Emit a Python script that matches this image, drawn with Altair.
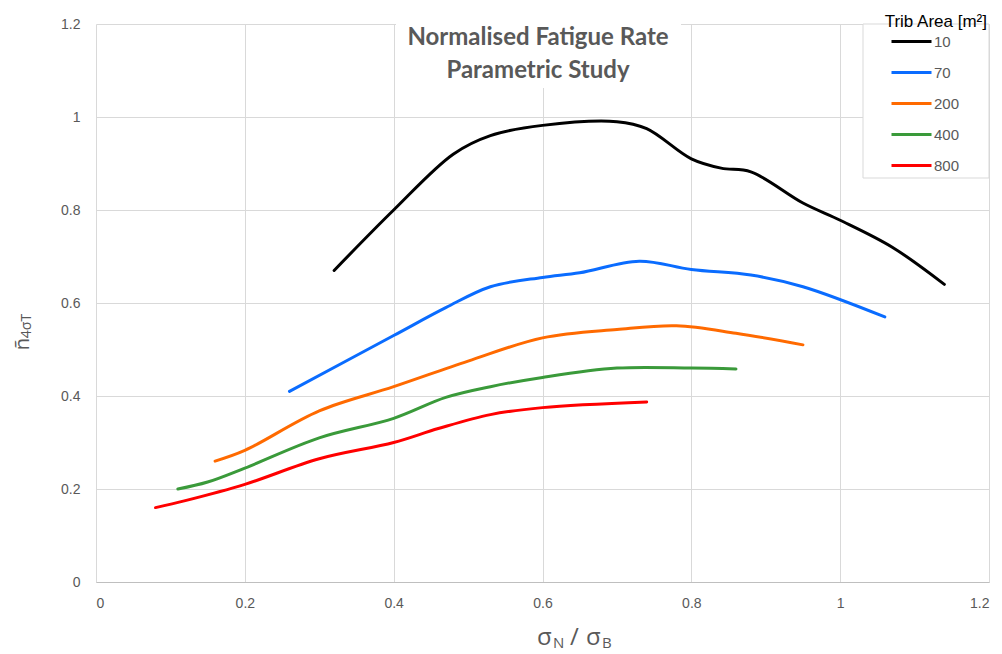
import altair as alt
import pandas as pd

# ---- data ----
series_names = ["10", "70", "200", "400", "800"]
series_colors = ["#000000", "#0A6CFF", "#FF6A00", "#3A9A3A", "#FF0000"]

x_10 = [0.32, 0.40, 0.48, 0.53, 0.60, 0.70, 0.74, 0.80, 0.84, 0.88, 0.95, 1.00, 1.07, 1.14]
y_10 = [0.67, 0.80, 0.92, 0.96, 0.982, 0.99, 0.975, 0.91, 0.89, 0.882, 0.815, 0.778, 0.72, 0.64]

x_70 = [0.26, 0.40, 0.47, 0.53, 0.60, 0.65, 0.73, 0.80, 0.88, 0.95, 1.06]
y_70 = [0.41, 0.53, 0.59, 0.635, 0.655, 0.665, 0.69, 0.672, 0.66, 0.635, 0.57]

x_200 = [0.16, 0.20, 0.30, 0.40, 0.50, 0.60, 0.70, 0.78, 0.86, 0.95]
y_200 = [0.26, 0.283, 0.368, 0.42, 0.475, 0.525, 0.543, 0.551, 0.535, 0.51]

x_400 = [0.11, 0.15, 0.20, 0.30, 0.40, 0.47, 0.53, 0.60, 0.70, 0.80, 0.86]
y_400 = [0.20, 0.215, 0.245, 0.31, 0.352, 0.397, 0.42, 0.44, 0.46, 0.46, 0.458]

x_800 = [0.08, 0.12, 0.20, 0.30, 0.40, 0.46, 0.53, 0.60, 0.74]
y_800 = [0.16, 0.175, 0.21, 0.265, 0.30, 0.33, 0.36, 0.375, 0.387]

x_ticks = [0, 0.2, 0.4, 0.6, 0.8, 1.0, 1.2]
y_ticks = [0, 0.2, 0.4, 0.6, 0.8, 1.0, 1.2]

title_lines = ["Normalised Fatigue Rate", "Parametric Study"]
legend_title = "Trib Area [m²]"

rows = []
for name, xs, ys in zip(series_names, [x_10, x_70, x_200, x_400, x_800],
                        [y_10, y_70, y_200, y_400, y_800]):
    for i, (a, b) in enumerate(zip(xs, ys)):
        rows.append({"area": name, "x": a, "y": b, "order": i})
df = pd.DataFrame(rows)

W, H = 893, 558
GRAY = "#595959"
FONT = "Liberation Sans"
one = pd.DataFrame({"k": [0]})

lines = alt.Chart(df).mark_line(interpolate="catmull-rom", strokeWidth=3, strokeCap="round").encode(
    x=alt.X("x:Q", scale=alt.Scale(domain=[0, 1.2], nice=False),
            axis=alt.Axis(values=x_ticks, format="~g", title=None, grid=True, ticks=False,
                          domain=True, domainColor="#bfbfbf", gridColor="#d9d9d9",
                          labelColor=GRAY, labelFontSize=14, labelFont=FONT, labelPadding=14)),
    y=alt.Y("y:Q", scale=alt.Scale(domain=[0, 1.2], nice=False),
            axis=alt.Axis(values=y_ticks, format="~g", title=None, grid=True, ticks=False,
                          domain=False, gridColor="#d9d9d9",
                          labelColor=GRAY, labelFontSize=14, labelFont=FONT, labelPadding=16)),
    color=alt.Color("area:N", sort=series_names,
                    scale=alt.Scale(domain=series_names, range=series_colors),
                    legend=alt.Legend(title=None, orient="none", legendX=808, legendY=10,
                                      symbolType="M-4,0H4", symbolSize=100, symbolStrokeWidth=3,
                                      labelOffset=15, labelFontSize=15, labelColor=GRAY,
                                      labelFont=FONT, rowPadding=15, padding=0)),
    order="order:Q",
)

title_bg = alt.Chart(one).mark_rect(color="white").encode(
    x=alt.value(300), x2=alt.value(585), y=alt.value(0), y2=alt.value(64))

title_df = pd.DataFrame({"t": title_lines, "yy": [14, 47]})
title_txt = alt.Chart(title_df).mark_text(font="Lato", fontSize=24, fontWeight="bold",
                                          color=GRAY, baseline="middle", align="center").encode(
    text="t:N", x=alt.value(442), y=alt.Y("yy:Q", scale=None))

legend_box = alt.Chart(one).mark_rect(fill="white", stroke="#d9d9d9", strokeWidth=1).encode(
    x=alt.value(767), x2=alt.value(893), y=alt.value(0), y2=alt.value(154))
legend_ttl = alt.Chart(one).mark_text(text=legend_title, font=FONT, fontSize=17, color="#000000",
                                      align="right", baseline="alphabetic").encode(
    x=alt.value(891), y=alt.value(3))

# x-axis title  sigma_N / sigma_B
xt_df = pd.DataFrame({
    "t": ["σ", "N", "/", "σ", "B"],
    "px": [441, 457, 474, 490, 506],
    "py": [621, 624, 621, 621, 624],
    "fs": [24, 15, 24, 24, 15],
})
x_title = alt.Chart(xt_df).mark_text(font="Open Sans", color=GRAY, align="left",
                                     baseline="alphabetic").encode(
    text="t:N", x=alt.X("px:Q", scale=None), y=alt.Y("py:Q", scale=None),
    size=alt.Size("fs:Q", scale=None, legend=None))

# y-axis title  n~ with subscript 4sigmaT
yt_df = pd.DataFrame({
    "t": ["ñ", "4σT"],
    "px": [-67, -65],
    "py": [320, 302],
    "fs": [20, 14],
})
y_title = alt.Chart(yt_df).mark_text(font="Open Sans", color=GRAY, align="center",
                                     baseline="alphabetic", angle=270).encode(
    text="t:N", x=alt.X("px:Q", scale=None), y=alt.Y("py:Q", scale=None),
    size=alt.Size("fs:Q", scale=None, legend=None))

chart = alt.layer(title_bg, legend_box, lines, title_txt, legend_ttl, x_title, y_title).properties(
    width=W, height=H,
    autosize=alt.AutoSizeParams(type="none"),
    padding={"left": 88, "top": 16, "right": 5, "bottom": 70},
).configure_view(stroke=None).resolve_scale(size="independent")

chart.save("out.html", embed_options={"renderer": "svg", "actions": False})
